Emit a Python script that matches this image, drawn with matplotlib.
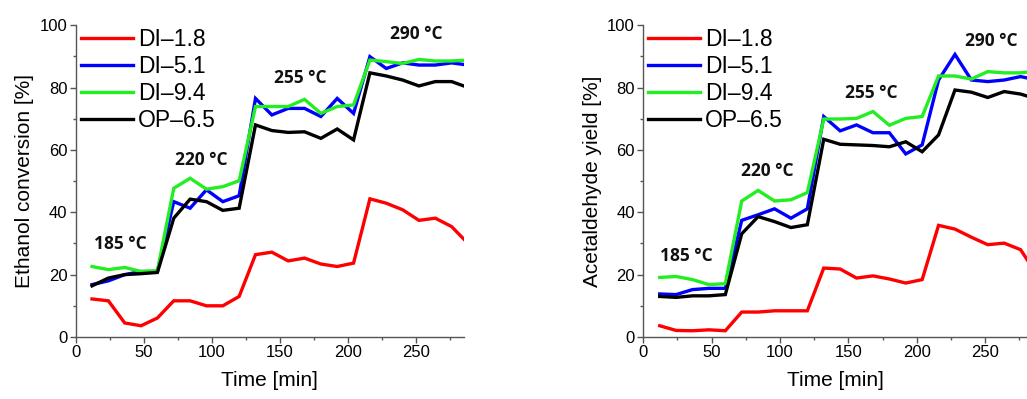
import matplotlib.pyplot as plt
from matplotlib.ticker import MultipleLocator

# sampling times [min]
time = [12, 24, 36, 48, 60, 72, 84, 96, 108, 120, 132, 144,
        156, 168, 180, 192, 204, 216, 228, 240, 252, 264, 276, 288]

series_names = ['DI\u20131.8', 'DI\u20135.1', 'DI\u20139.4', 'OP\u20136.5']
series_colors = ['#ff0000', '#0000ff', '#22ee22', '#000000']

# ethanol conversion [%]
conv_di18 = [12.2, 11.6, 4.5, 3.6, 6.1, 11.6, 11.6, 10.0, 10.0, 13.0, 26.4, 27.2,
             24.4, 25.3, 23.4, 22.6, 23.7, 44.3, 42.9, 40.8, 37.4, 38.1, 35.4, 30.0]
conv_di51 = [16.8, 18.0, 20.0, 21.0, 21.0, 43.4, 41.3, 47.2, 43.4, 45.3, 76.5, 71.2,
             73.3, 73.3, 70.7, 76.5, 71.7, 89.9, 86.1, 87.9, 87.2, 87.2, 87.9, 87.2]
conv_di94 = [22.6, 21.6, 22.3, 21.0, 21.3, 47.7, 50.9, 47.4, 48.2, 50.1, 73.9, 73.9,
             73.9, 76.2, 71.7, 73.9, 74.4, 88.8, 88.3, 87.7, 89.0, 88.5, 88.5, 88.8]
conv_op65 = [16.4, 18.9, 20.0, 20.3, 20.7, 38.1, 44.2, 43.4, 40.6, 41.3, 68.0, 66.2,
             65.6, 65.8, 63.7, 66.7, 63.2, 84.7, 83.7, 82.4, 80.5, 81.9, 81.9, 80.0]

# acetaldehyde yield [%]
yield_di18 = [3.6, 2.1, 2.0, 2.3, 2.0, 8.0, 8.0, 8.4, 8.4, 8.4, 22.1, 21.8,
              18.9, 19.6, 18.6, 17.3, 18.4, 35.8, 34.6, 32.0, 29.6, 30.1, 28.0, 20.0]
yield_di51 = [13.8, 13.6, 15.2, 15.6, 15.6, 37.4, 39.2, 41.1, 38.1, 41.1, 70.7, 66.1,
              68.0, 65.5, 65.5, 58.7, 61.6, 82.4, 90.6, 82.4, 81.9, 82.4, 83.5, 82.4]
yield_di94 = [19.1, 19.4, 18.4, 16.8, 17.1, 43.6, 47.0, 43.6, 44.0, 46.3, 69.9, 69.9,
              70.1, 72.3, 67.9, 70.1, 70.7, 83.7, 83.7, 82.7, 85.1, 84.7, 84.7, 85.3]
yield_op65 = [13.0, 12.7, 13.2, 13.2, 13.6, 33.1, 38.6, 37.0, 35.1, 36.0, 63.4, 61.8,
              61.6, 61.4, 61.0, 62.6, 59.4, 64.8, 79.2, 78.5, 76.8, 78.7, 77.9, 76.3]

temp_labels = ['185 \u00b0C', '220 \u00b0C', '255 \u00b0C', '290 \u00b0C']
conv_label_pos = [(32.6, 29.8), (92.4, 56.7), (164.9, 83.2), (249.7, 97.0)]
yield_label_pos = [(31.5, 26.0), (90.7, 53.2), (167.0, 78.3), (254.6, 94.9)]

plt.rcParams['font.family'] = ['Liberation Sans', 'DejaVu Sans']

fig = plt.figure(figsize=(10.27, 3.99), dpi=100)
ax1 = fig.add_axes([0.0737, 0.1554, 0.378, 0.7816])
ax2 = fig.add_axes([0.6264, 0.1554, 0.3736, 0.7816])

panels = [
    (ax1, [conv_di18, conv_di51, conv_di94, conv_op65], 'Ethanol conversion [%]', conv_label_pos, 285),
    (ax2, [yield_di18, yield_di51, yield_di94, yield_op65], 'Acetaldehyde yield [%]', yield_label_pos, 280.7),
]

for ax, data, ylabel, label_pos, xmax in panels:
    for values, name, color in zip(data, series_names, series_colors):
        ax.plot(time, values, color=color, lw=2.4, label=name, solid_joinstyle='miter')
    for text, (tx, ty) in zip(temp_labels, label_pos):
        ax.text(tx, ty, text, ha='center', va='center', fontsize=12.5,
                fontweight='bold', family='Open Sans', color='#111111')
    ax.set_xlim(0, xmax)
    ax.set_ylim(0, 100)
    ax.xaxis.set_major_locator(MultipleLocator(50))
    ax.xaxis.set_minor_locator(MultipleLocator(25))
    ax.yaxis.set_major_locator(MultipleLocator(20))
    ax.yaxis.set_minor_locator(MultipleLocator(10))
    ax.tick_params(which='major', direction='out', length=4, width=1, color='#555555',
                   labelsize=12, pad=2)
    ax.tick_params(which='minor', direction='out', length=2.5, width=1, color='#555555')
    for side in ['top', 'right']:
        ax.spines[side].set_visible(False)
    for side in ['left', 'bottom']:
        ax.spines[side].set_color('#555555')
        ax.spines[side].set_linewidth(1)
    ax.set_xlabel('Time [min]', fontsize=15, labelpad=8)
    ax.set_ylabel(ylabel, fontsize=15, labelpad=4)
    ax.legend(loc='upper left', frameon=False, fontsize=16.5, handlelength=2.27,
              handletextpad=0.22, labelspacing=0.17, borderaxespad=0.0,
              borderpad=0.05, bbox_to_anchor=(0.01, 0.994))

fig.savefig('out.png', dpi=100)
